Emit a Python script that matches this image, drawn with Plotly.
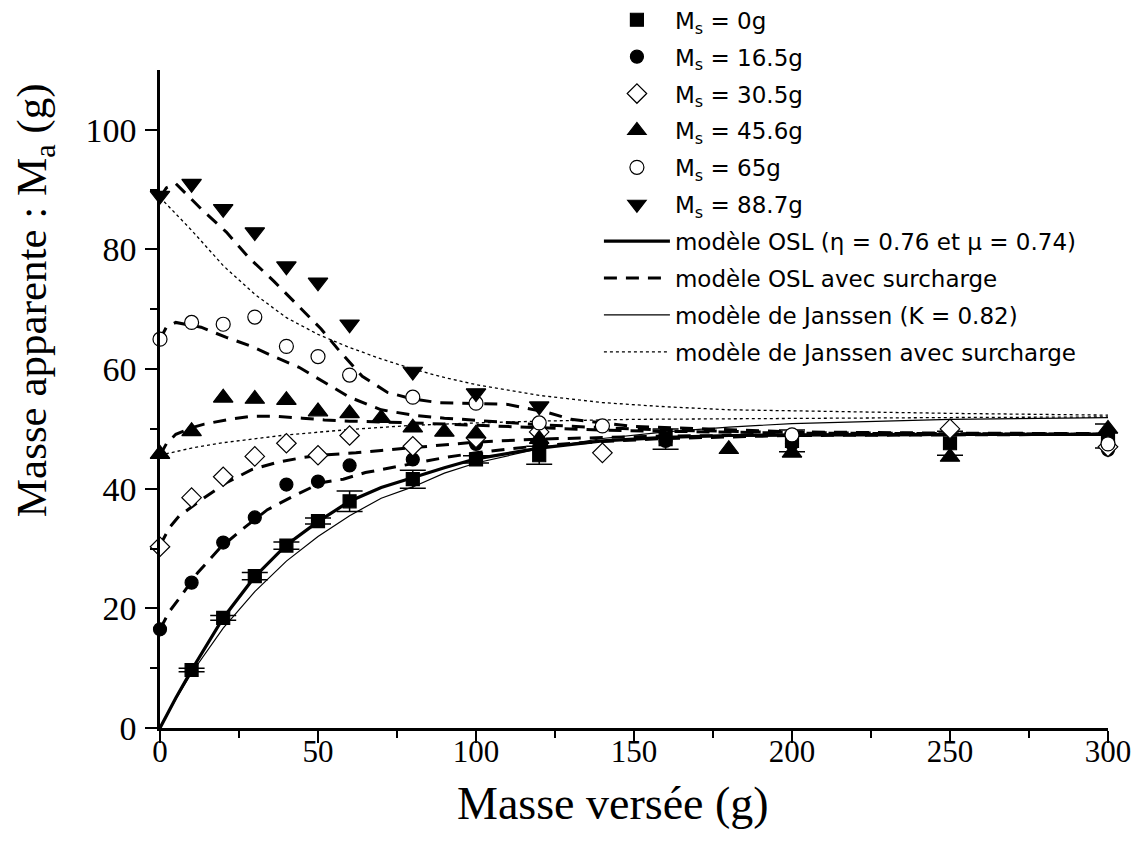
import plotly.graph_objects as go

# ---------------- data ----------------
# Experimental points
x_ms0 = [10, 20, 30, 40, 50, 60, 80, 100, 120, 160, 200, 250, 300]
y_ms0 = [9.7, 18.4, 25.4, 30.5, 34.6, 37.9, 41.6, 44.9, 45.6, 48.3, 48.0, 47.6, 48.8]
err_ms0 = [0.3, 0.4, 0.6, 0.6, 0.5, 1.7, 1.5, 0.6, 1.5, 1.7, 1.8, 2.0, 2.0]

x_ms16 = [0, 10, 20, 30, 40, 50, 60, 80, 100, 120, 160, 200, 300]
y_ms16 = [16.5, 24.3, 31.0, 35.2, 40.7, 41.2, 43.9, 44.9, 47.5, 47.0, 48.0, 47.5, 46.5]

x_ms30 = [0, 10, 20, 30, 40, 50, 60, 80, 100, 120, 140, 250, 300]
y_ms30 = [30.3, 38.5, 42.0, 45.4, 47.6, 45.6, 48.9, 47.1, 48.5, 49.5, 46.0, 50.0, 47.0]

x_ms45 = [0, 10, 20, 30, 40, 50, 60, 70, 80, 90, 100, 120, 180, 200, 250, 300]
y_ms45 = [45.8, 49.6, 55.2, 55.0, 54.8, 52.9, 52.6, 51.8, 50.2, 49.5, 49.2, 48.3, 46.6, 46.0, 45.3, 50.0]

x_ms65 = [0, 10, 20, 30, 40, 50, 60, 80, 100, 120, 140, 200, 300]
y_ms65 = [65.0, 67.8, 67.5, 68.7, 63.8, 62.1, 59.0, 55.3, 54.3, 51.0, 50.5, 49.0, 47.5]

x_ms88 = [0, 10, 20, 30, 40, 50, 60, 80, 100, 120]
y_ms88 = [89.0, 91.0, 86.8, 82.9, 77.2, 74.5, 67.5, 59.6, 56.0, 53.8]

# Model curves
x_osl = [0, 5, 10, 20, 30, 40, 50, 60, 70, 80, 90, 100, 120, 140, 160, 180, 200, 250, 300]
y_osl = [0, 5.0, 9.7, 18.4, 25.3, 30.6, 34.5, 37.9, 40.2, 41.9, 43.5, 45.0, 46.8, 48.0, 48.6, 48.9, 49.0, 49.1, 49.1]

x_jan = [0, 5, 10, 20, 30, 40, 50, 60, 70, 80, 90, 100, 120, 140, 160, 180, 200, 250, 300]
y_jan = [0, 4.8, 9.2, 16.7, 22.8, 27.9, 32.0, 35.5, 38.4, 40.3, 42.6, 44.3, 46.7, 48.4, 49.5, 50.3, 50.9, 51.6, 51.9]

x_jan45 = [0, 10, 20, 30, 40, 60, 80, 100, 120, 150, 200, 250, 300]
y_jan45 = [45.6, 46.8, 47.7, 48.4, 49.0, 49.9, 50.6, 51.0, 51.3, 51.6, 51.8, 51.9, 52.0]

x_jan88 = [0, 10, 20, 30, 40, 50, 60, 70, 80, 90, 100, 120, 140, 160, 180, 200, 250, 300]
y_jan88 = [88.7, 83.2, 77.3, 72.5, 68.6, 65.8, 63.6, 61.7, 60.0, 58.6, 57.4, 55.6, 54.4, 53.7, 53.2, 53.0, 52.6, 52.3]

x_sur16 = [0, 3, 6, 12, 19, 26, 34, 42, 51, 58, 65, 73, 80, 90, 100, 120, 140, 160, 200, 250, 300]
y_sur16 = [16.5, 19.5, 21.6, 26.0, 30.1, 33.2, 36.5, 38.7, 41.0, 41.6, 42.7, 43.5, 44.3, 45.2, 46.0, 47.2, 47.9, 48.4, 48.9, 49.0, 49.1]

x_sur30 = [0, 3, 6, 14, 21, 29, 37, 45, 53, 62, 70, 80, 90, 100, 120, 140, 160, 200, 250, 300]
y_sur30 = [30.5, 33.5, 35.4, 38.5, 41.0, 43.2, 44.4, 45.2, 45.7, 46.0, 46.4, 46.9, 47.4, 47.8, 48.3, 48.6, 48.8, 49.0, 49.1, 49.1]

x_sur45 = [0, 2, 5, 10, 14, 22, 29, 37, 45, 52, 60, 70, 80, 90, 100, 120, 140, 160, 200, 250, 300]
y_sur45 = [45.6, 47.5, 49.1, 50.2, 50.8, 51.6, 52.1, 52.1, 51.8, 51.5, 51.3, 51.2, 51.0, 50.8, 50.6, 50.1, 49.8, 49.6, 49.3, 49.2, 49.1]

x_sur65 = [0, 2, 5, 13, 21, 29, 36, 44, 52, 60, 70, 80, 90, 100, 120, 140, 160, 200, 250, 300]
y_sur65 = [65.0, 67.0, 67.8, 67.0, 65.3, 63.8, 62.1, 60.3, 57.8, 55.3, 53.2, 52.3, 51.8, 51.4, 50.7, 50.2, 49.8, 49.4, 49.2, 49.2]

x_sur88 = [0, 2, 5, 13, 21, 28, 36, 43, 51, 57, 64, 72, 80, 88, 96, 110, 123, 130, 150, 200, 250, 300]
y_sur88 = [88.7, 90.3, 91.0, 86.8, 82.9, 78.7, 74.7, 70.9, 66.7, 62.9, 58.8, 56.1, 55.0, 54.4, 54.3, 54.1, 52.7, 51.6, 50.4, 49.5, 49.3, 49.2]

labels_ms = ["M<sub>s</sub> = 0g", "M<sub>s</sub> = 16.5g", "M<sub>s</sub> = 30.5g",
             "M<sub>s</sub> = 45.6g", "M<sub>s</sub> = 65g", "M<sub>s</sub> = 88.7g"]
label_osl = "modèle OSL (η = 0.76 et μ = 0.74)"
label_sur = "modèle OSL avec surcharge"
label_jan = "modèle de Janssen (K = 0.82)"
label_jansur = "modèle de Janssen avec surcharge"
x_title = "Masse versée (g)"
y_title = "Masse apparente : M<sub>a</sub> (g)"

# ---------------- figure ----------------
fig = go.Figure()
DASH = "13px,9px"
DOT = "3px,3px"

# model lines first (drawn below the markers)
fig.add_trace(go.Scatter(x=x_osl, y=y_osl, mode="lines", name=label_osl,
                         line=dict(color="black", width=3.2), legendgroup="g7", legendrank=7))
sur = [(x_sur16, y_sur16), (x_sur30, y_sur30), (x_sur45, y_sur45), (x_sur65, y_sur65), (x_sur88, y_sur88)]
for i, (xs, ys) in enumerate(sur):
    fig.add_trace(go.Scatter(x=xs, y=ys, mode="lines", name=label_sur,
                             line=dict(color="black", width=3, dash=DASH),
                             legendgroup="g8", legendrank=8, showlegend=(i == 0)))
fig.add_trace(go.Scatter(x=x_jan, y=y_jan, mode="lines", name=label_jan,
                         line=dict(color="black", width=1.2), legendgroup="g9", legendrank=9))
for i, (xs, ys) in enumerate([(x_jan45, y_jan45), (x_jan88, y_jan88)]):
    fig.add_trace(go.Scatter(x=xs, y=ys, mode="lines", name=label_jansur,
                             line=dict(color="black", width=1.3, dash=DOT),
                             legendgroup="g10", legendrank=10, showlegend=(i == 0)))

series = [
    (x_ms0, y_ms0, "square", "black", 13),
    (x_ms16, y_ms16, "circle", "black", 13),
    (x_ms30, y_ms30, "diamond", "white", 15),
    (x_ms45, y_ms45, "triangle-up", "black", 17),
    (x_ms65, y_ms65, "circle", "white", 14),
    (x_ms88, y_ms88, "triangle-down", "black", 17),
]
for i, (xs, ys, sym, fill, sz) in enumerate(series):
    kw = {}
    if i == 0:
        kw["error_y"] = dict(type="data", array=err_ms0, visible=True, color="black",
                             thickness=1.5, width=13)
    fig.add_trace(go.Scatter(x=xs, y=ys, mode="markers", name=labels_ms[i],
                             marker=dict(symbol=sym, size=sz, color=fill,
                                         line=dict(color="black", width=1.2)),
                             cliponaxis=False, legendgroup="g%d" % (i + 1), legendrank=i + 1,
                             **kw))

serif = "Liberation Serif, Times New Roman, serif"

# the page adds an 8px body margin, so the figure is 8px smaller and margins shifted
fig.update_layout(
    width=1133, height=848,
    paper_bgcolor="white", plot_bgcolor="white",
    margin=dict(l=152, r=33, t=62, b=128, autoexpand=False),
    showlegend=True,
    legend=dict(x=0.463, y=1.109, xanchor="left", yanchor="top",
                bgcolor="rgba(0,0,0,0)", borderwidth=0,
                font=dict(family="DejaVu Sans, Arial, sans-serif", size=23, color="black"),
                itemwidth=66, tracegroupgap=4, traceorder="grouped", itemsizing="trace"),
    xaxis=dict(range=[0, 300], tickmode="array", tickvals=[0, 50, 100, 150, 200, 250, 300],
               automargin=False,
               showline=True, linecolor="black", linewidth=2.5, mirror=False,
               ticks="outside", ticklen=12, tickwidth=2, tickcolor="black",
               minor=dict(dtick=25, ticklen=7, tickwidth=2, ticks="outside", tickcolor="black"),
               showgrid=False, zeroline=False,
               tickfont=dict(family=serif, size=31, color="black"), ticklabelstandoff=-18),
    yaxis=dict(range=[0, 110], tickmode="array", tickvals=[0, 20, 40, 60, 80, 100],
               automargin=False,
               showline=True, linecolor="black", linewidth=2.5, mirror=False,
               ticks="outside", ticklen=12, tickwidth=2, tickcolor="black",
               minor=dict(tickvals=[10, 30, 50, 70, 90], ticklen=7, tickwidth=2, ticks="outside",
                          tickcolor="black"),
               showgrid=False, zeroline=False,
               tickfont=dict(family=serif, size=34, color="black"), ticklabelstandoff=2),
    annotations=[
        dict(text=x_title, xref="paper", yref="paper", x=0.478, y=-0.114,
             xanchor="center", yanchor="middle", showarrow=False,
             font=dict(family=serif, size=46, color="black")),
        dict(text=y_title, xref="paper", yref="paper", x=-0.132, y=0.650, textangle=-90,
             xanchor="center", yanchor="middle", showarrow=False,
             font=dict(family=serif, size=43, color="black")),
    ],
)

fig.write_html("out.html")
